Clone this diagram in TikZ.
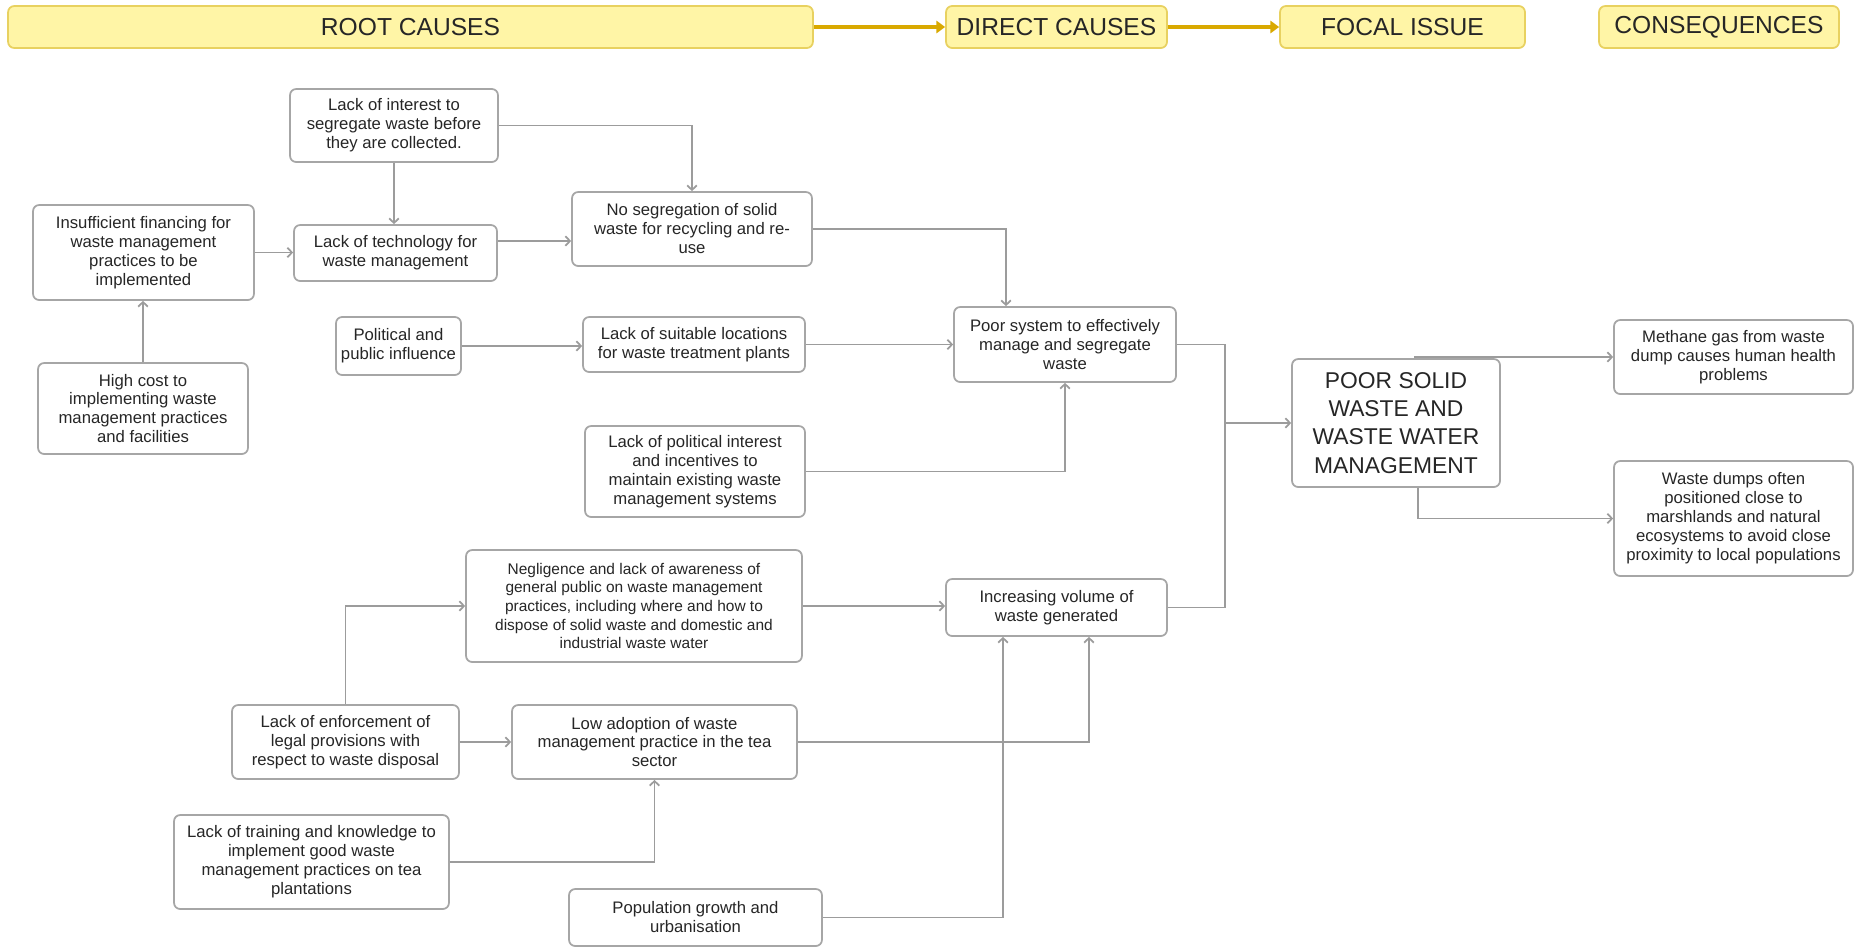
\documentclass[tikz,border=0pt]{standalone}
\usepackage{fontspec}
\setmainfont{Liberation Sans}
\usetikzlibrary{arrows.meta}

\definecolor{boxgray}{HTML}{A6A6A6}
\definecolor{linkgray}{HTML}{9C9C9C}
\definecolor{textdark}{HTML}{262626}
\definecolor{headfill}{HTML}{FFF5A6}
\definecolor{headline}{HTML}{E8D160}
\definecolor{gold}{HTML}{D9A900}

\begin{document}
\begin{tikzpicture}[x=0.02cm, y=-0.02cm,
  cause/.style={draw=boxgray, line width=1pt, rounded corners=3.5pt, fill=white,
    align=center, text=textdark, inner sep=1pt,
    font=\fontsize{9.5}{10.8}\selectfont},
  header/.style={draw=headline, line width=1pt, rounded corners=3.5pt, fill=headfill,
    text=textdark, minimum height=0.84cm, font=\fontsize{14}{16}\selectfont},
  link/.style={draw=linkgray, line width=1pt, -{Straight Barb[length=2.6pt,width=5.5pt]}},
  flow/.style={draw=gold, line width=2.4pt, -{Triangle[length=5pt,width=7pt]}}]

  % Fix the canvas to the reference size
  \useasboundingbox (0,0) rectangle (1854,947);

  % Header bar
  \node[header, minimum width=16.1cm] (root)   at (410.5,27)  {ROOT CAUSES};
  \node[header, minimum width=4.42cm] (direct) at (1056.5,27) {DIRECT CAUSES};
  \node[header, minimum width=4.9cm]  (focalh) at (1402.5,27) {FOCAL ISSUE};
  \node[header, minimum width=4.8cm]  (conseq) at (1719,27)   {CONSEQUENCES};

  \draw[flow] (root.east) -- (direct.west);
  \draw[flow] (direct.east) -- (focalh.west);

  % Root causes, upper branch
  \node[cause, minimum width=4.16cm, minimum height=1.46cm] (interest) at (394,125.5)
    {Lack of interest to\\segregate waste before\\they are collected.};
  \node[cause, minimum width=4.42cm, minimum height=1.9cm] (finance) at (143.5,252.5)
    {Insufficient financing for\\waste management\\practices to be\\implemented};
  \node[cause, minimum width=4.06cm, minimum height=1.12cm] (tech) at (395.5,253)
    {Lack of technology for\\waste management};
  \node[cause, minimum width=4.8cm, minimum height=1.48cm] (noseg) at (692,229)
    {No segregation of solid\\waste for recycling and re-\\use};
  \node[cause, minimum width=4.2cm, minimum height=1.82cm] (highcost) at (143,408.5)
    {High cost to\\implementing waste\\management practices\\and facilities};
  \node[cause, minimum width=2.5cm, minimum height=1.16cm] (political) at (398.5,346)
    {Political and\\public influence};
  \node[cause, minimum width=4.44cm, minimum height=1.1cm] (locations) at (694,344.5)
    {Lack of suitable locations\\for waste treatment plants};
  \node[cause, minimum width=4.4cm, minimum height=1.82cm] (polinterest) at (695,471.5)
    {Lack of political interest\\and incentives to\\maintain existing waste\\management systems};

  % Root causes, lower branch
  \node[cause, minimum width=6.72cm, minimum height=2.24cm,
    font=\fontsize{8.8}{10.6}\selectfont] (negligence) at (634,606)
    {Negligence and lack of awareness of\\general public on waste management\\practices, including where and how to\\dispose of solid waste and domestic and\\industrial waste water};
  \node[cause, minimum width=4.54cm, minimum height=1.48cm] (enforce) at (345.5,742)
    {Lack of enforcement of\\legal provisions with\\respect to waste disposal};
  \node[cause, minimum width=5.7cm, minimum height=1.48cm] (lowadopt) at (654.5,742)
    {Low adoption of waste\\management practice in the tea\\sector};
  \node[cause, minimum width=5.5cm, minimum height=1.88cm] (training) at (311.5,862)
    {Lack of training and knowledge to\\implement good waste\\management practices on tea\\plantations};
  \node[cause, minimum width=5.06cm, minimum height=1.14cm] (popgrowth) at (695.5,917.5)
    {Population growth and\\urbanisation};

  % Direct causes
  \node[cause, minimum width=4.44cm, minimum height=1.5cm] (poorsys) at (1065,344.5)
    {Poor system to effectively\\manage and segregate\\waste};
  \node[cause, minimum width=4.42cm, minimum height=1.14cm] (incvol) at (1056.5,607.5)
    {Increasing volume of\\waste generated};

  % Focal issue
  \node[cause, minimum width=4.16cm, minimum height=2.56cm,
    font=\fontsize{13}{16}\selectfont] (focal) at (1396,423)
    {POOR SOLID\\WASTE AND\\WASTE WATER\\MANAGEMENT};
  \coordinate (merge) at (1225,423);

  % Consequences
  \node[cause, minimum width=4.78cm, minimum height=1.48cm] (methane) at (1733.5,357)
    {Methane gas from waste\\dump causes human health\\problems};
  \node[cause, minimum width=4.78cm, minimum height=2.3cm] (dumps) at (1733.5,518.5)
    {Waste dumps often\\positioned close to\\marshlands and natural\\ecosystems to avoid close\\proximity to local populations};

  % Links among root causes
  \draw[link] (interest.east) -| (noseg.north);
  \draw[link] (interest.south) -- (interest.south |- tech.north);
  \draw[link] (finance.east) -- (finance.east -| tech.west);
  \draw[link] (highcost.north) -- (highcost.north |- finance.south);
  \draw[link] ([yshift=0.24cm]tech.east) -- ([yshift=0.24cm]tech.east -| noseg.west);
  \draw[link] (political.east) -- (political.east -| locations.west);
  \draw[link] (enforce.north) |- (negligence.west);
  \draw[link] (enforce.east) -- (enforce.east -| lowadopt.west);
  \draw[link] (training.east) -| (lowadopt.south);

  % Links into direct causes
  \draw[link] (noseg.east) -| ([xshift=-1.18cm]poorsys.north);
  \draw[link] (locations.east) -- (locations.east -| poorsys.west);
  \draw[link] (polinterest.east) -| (poorsys.south);
  \draw[link] (negligence.east) -- (negligence.east -| incvol.west);
  \draw[link] (lowadopt.east) -| ([xshift=0.65cm]incvol.south);
  \draw[link] (popgrowth.east) -| ([xshift=-1.07cm]incvol.south);

  % Direct causes to focal issue
  \draw[link] (poorsys.east) -| (merge) -- (focal.west);
  \draw[draw=linkgray, line width=1pt] (incvol.east) -| (merge);

  % Focal issue to consequences
  \draw[link] ([xshift=0.38cm]focal.north) |- (methane.west);
  \draw[link] ([xshift=0.44cm]focal.south) |- (dumps.west);

\end{tikzpicture}
\end{document}
